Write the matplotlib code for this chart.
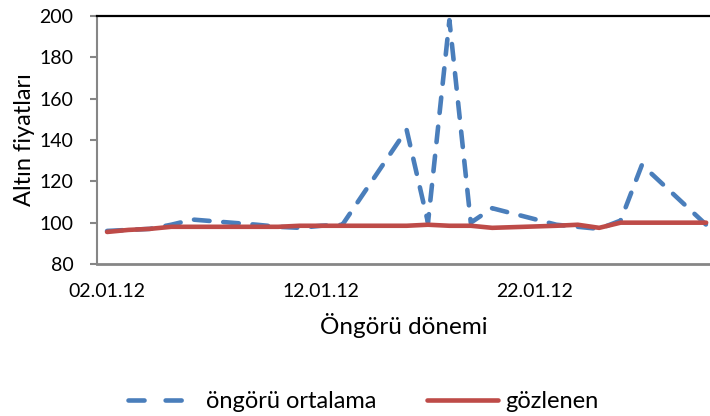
import pandas as pd
import matplotlib
matplotlib.use("Agg")
import matplotlib.pyplot as plt
import matplotlib.dates as mdates
from matplotlib.lines import Line2D
from datetime import timedelta

plt.rcParams['font.family'] = ['Lato', 'DejaVu Sans']

# islem gunleri (hafta sonlari yok)
tarihler = ["2012-01-02", "2012-01-03", "2012-01-04", "2012-01-05", "2012-01-06",
            "2012-01-09", "2012-01-10", "2012-01-11", "2012-01-12", "2012-01-13",
            "2012-01-16", "2012-01-17", "2012-01-18", "2012-01-19", "2012-01-20",
            "2012-01-23", "2012-01-24", "2012-01-25", "2012-01-26", "2012-01-27",
            "2012-01-30"]

ongoru = [96, 96.5, 97, 99, 101.5,
          99, 98, 97.5, 98.5, 99,
          145, 100, 198, 100, 107,
          99, 98, 97, 101, 128,
          99]

gozlenen = [95.5, 96.5, 97, 98, 98,
            98, 98, 98.5, 98.5, 98.5,
            98.5, 99, 98.5, 98.5, 97.5,
            98.5, 99, 97.5, 100, 100,
            100]

etiketler = ["2012-01-02", "2012-01-12", "2012-01-22"]

x = pd.to_datetime(tarihler)
mavi = "#4A7EBB"
kirmizi = "#BE4B48"

fig = plt.figure(figsize=(7.10, 4.16), dpi=100)
ax = fig.add_axes([97/710, 1-264/416, 1-97/710, 248/416])

ax.plot(x, ongoru, color=mavi, lw=3.3, linestyle=(0, (3.4, 3.0)),
        dash_capstyle="round")
ax.plot(x, gozlenen, color=kirmizi, lw=3.3, solid_capstyle="round",
        solid_joinstyle="round")

ax.set_ylim(80, 200)
ax.set_yticks([80, 100, 120, 140, 160, 180, 200])
ax.set_xlim(x[0] - timedelta(days=0.47), x[0] + timedelta(days=28.18))
ax.set_xticks(pd.to_datetime(etiketler))
ax.xaxis.set_major_formatter(mdates.DateFormatter("%d.%m.%y"))

ax.spines["right"].set_visible(False)
ax.spines["top"].set_color("black")
ax.spines["top"].set_linewidth(1.6)
ax.spines["left"].set_color("#868686")
ax.spines["left"].set_linewidth(1.5)
ax.spines["bottom"].set_color("#868686")
ax.spines["bottom"].set_linewidth(2)

ax.tick_params(axis="y", length=5, width=1.5, color="#868686", labelsize=14, pad=12)
ax.tick_params(axis="x", length=0, labelsize=14, pad=14)

ax.set_ylabel("Altın fiyatları", fontsize=17, labelpad=3)
ax.set_xlabel("Öngörü dönemi", fontsize=17.5, labelpad=9)

# legend
h1 = Line2D([], [], color=mavi, lw=3.3, linestyle=(0, (3.5, 4.6, 3.5, 20)),
            dash_capstyle="round")
h2 = Line2D([], [], color=kirmizi, lw=3.3, solid_capstyle="round")
fig.legend([h1, h2], ["öngörü ortalama", "gözlenen"], loc="center",
           bbox_to_anchor=(363/710, 1-402/416), ncol=2, frameon=False,
           fontsize=17, handlelength=3.0, columnspacing=2.15, handletextpad=0.3)

fig.savefig("out.png", dpi=100)
